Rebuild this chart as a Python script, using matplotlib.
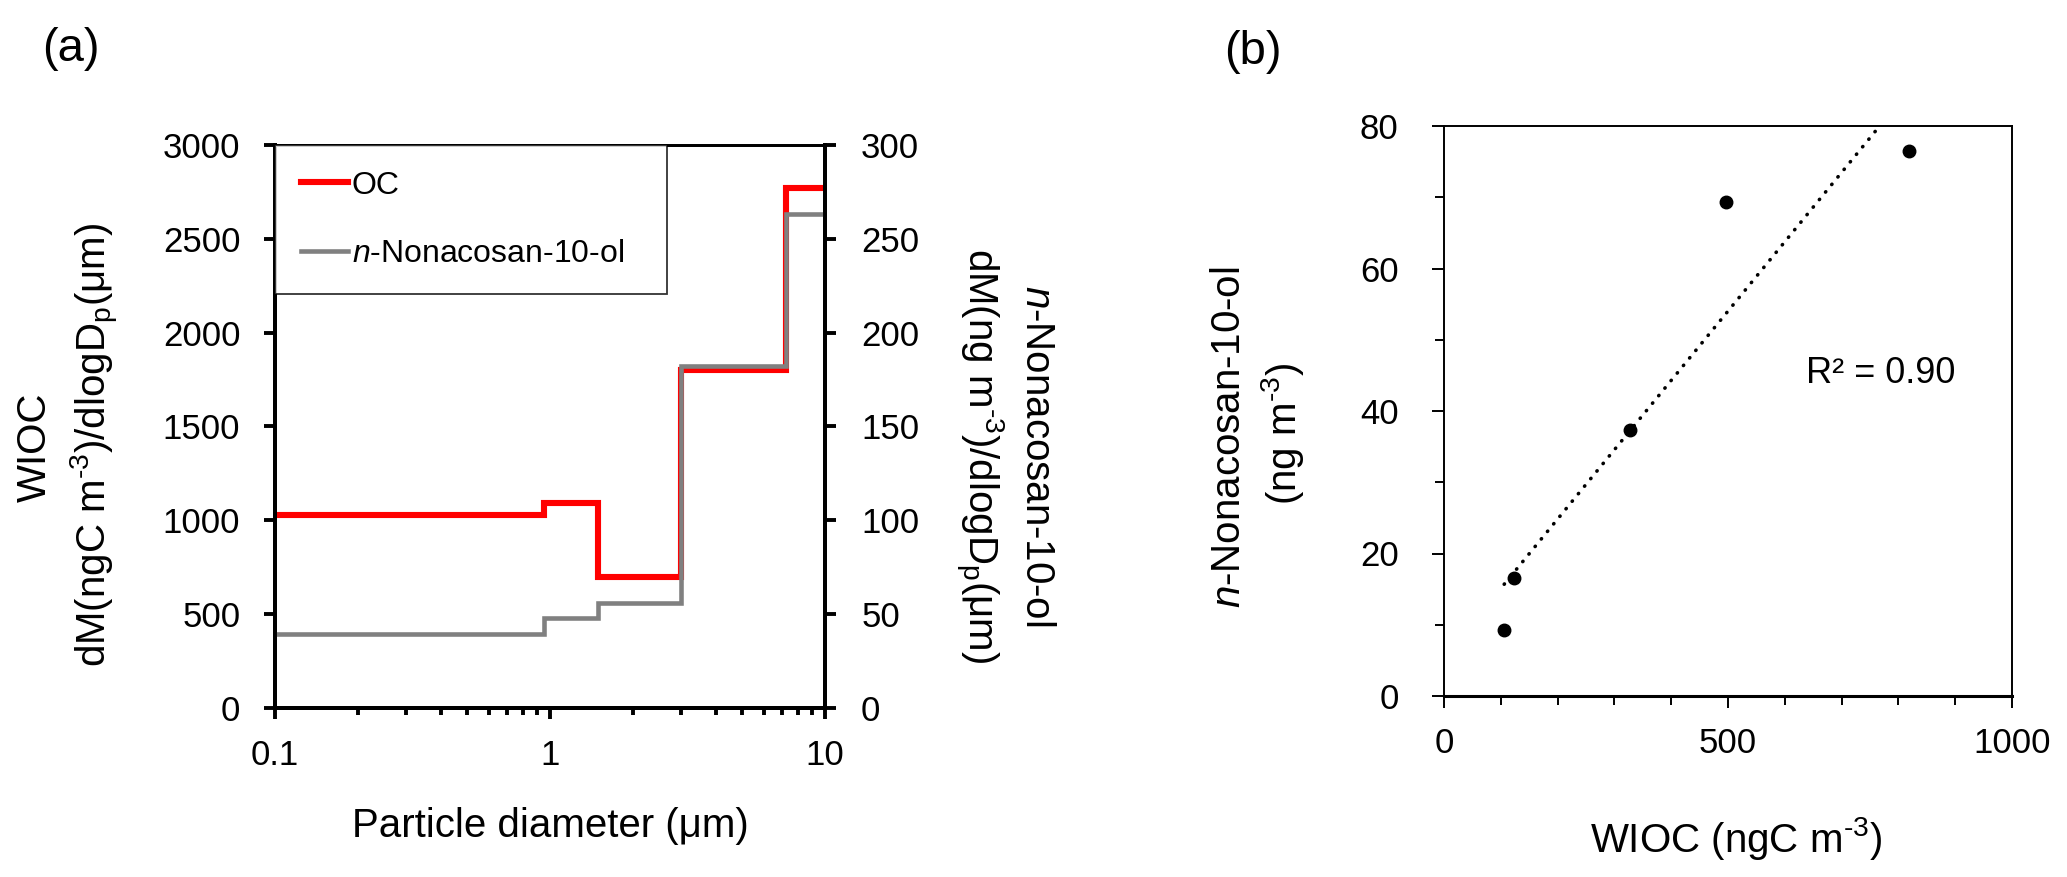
import numpy as np
import matplotlib
matplotlib.use('Agg')
import matplotlib.pyplot as plt
from matplotlib.ticker import MultipleLocator, LogLocator, NullFormatter

plt.rcParams['font.family'] = ['Liberation Sans', 'DejaVu Sans']
plt.rcParams['mathtext.fontset'] = 'custom'
plt.rcParams['mathtext.rm'] = 'Liberation Sans'
plt.rcParams['mathtext.it'] = 'Liberation Sans:italic'

### data
# impactor stage edges (um) and dM/dlogDp per stage
bin_edges = [0.1, 0.95, 1.5, 3.0, 7.2, 10]
oc_vals = [1030, 1095, 700, 1800, 2770]
nona_vals = [39.4, 47.9, 55.8, 182, 263]

# panel b scatter
wioc = [106, 123, 328, 497, 819]
nona_conc = [9.3, 16.6, 37.4, 69.3, 76.5]

x_ticks_a = [0.1, 1, 10]
x_tick_labels_a = ['0.1', '1', '10']

### layout (pixels of the 2067x877 output)
W, H = 2067, 877
tick_fs = 25
label_fs = 29
legend_fs = 23
panel_fs = 34
sup = r'$^{\text{-3}}$'


def fx(px):
    return px / W


def fy(py):
    return 1 - py / H


fig = plt.figure(figsize=(W / 100, H / 100), dpi=100)

# ---------------- panel (a)
ax = fig.add_axes([fx(275), fy(708), 550 / W, 563 / H])
ax2 = ax.twinx()

l1, = ax.step(bin_edges, oc_vals + [oc_vals[-1]], where='post', color='#ff0000',
              lw=4.4, label='OC', solid_joinstyle='miter')
l2, = ax2.step(bin_edges, nona_vals + [nona_vals[-1]], where='post', color='#808080',
               lw=3.3, label='$n$-Nonacosan-10-ol', solid_joinstyle='miter')

ax.set_xscale('log')
ax.set_xlim(0.1, 10)
ax.set_ylim(0, 3000)
ax2.set_ylim(0, 300)
ax.set_xticks(x_ticks_a)
ax.set_xticklabels(x_tick_labels_a)
ax.xaxis.set_minor_locator(LogLocator(base=10, subs=np.arange(2, 10)))
ax.xaxis.set_minor_formatter(NullFormatter())
ax.yaxis.set_major_locator(MultipleLocator(500))
ax2.yaxis.set_major_locator(MultipleLocator(50))

for a in (ax, ax2):
    for s in a.spines.values():
        s.set_linewidth(2.8)
    a.spines['top'].set_linewidth(2.0)

ax.tick_params(axis='both', which='major', direction='out', length=8, width=2.8,
               labelsize=tick_fs)
ax.tick_params(axis='x', which='major', pad=14)
ax.tick_params(axis='x', which='minor', direction='out', length=5, width=2.8)
ax.tick_params(axis='y', pad=17)
ax2.tick_params(axis='y', direction='out', length=8, width=2.8, labelsize=tick_fs, pad=18)

leg = ax2.legend(handles=[l1, l2], loc='upper left', bbox_to_anchor=(0, 1, 392 / 550, 0),
                 mode='expand', borderaxespad=0, fontsize=legend_fs, frameon=True,
                 fancybox=False, edgecolor='black', handlelength=1.5, handletextpad=0.1,
                 labelspacing=1.2, borderpad=0.8)
leg.get_frame().set_linewidth(1.3)

# ---------------- panel (b)
axb = fig.add_axes([fx(1444), fy(696), 568 / W, 570 / H])
axb.plot(wioc, nona_conc, 'o', color='black', ms=9, zorder=3)

fit = np.polyfit(wioc, nona_conc, 1)
xs = np.array([min(wioc), max(wioc)])
axb.plot(xs, np.polyval(fit, xs), color='black', lw=2.6,
         linestyle=(0, (0.1, 2.6)), dash_capstyle='round')
r2 = np.corrcoef(wioc, nona_conc)[0, 1] ** 2
axb.text(637, 45.3, 'R\u00b2 = %.2f' % r2, fontsize=26, va='center', ha='left')

axb.set_xlim(0, 1000)
axb.set_ylim(0, 80)
axb.xaxis.set_major_locator(MultipleLocator(500))
axb.xaxis.set_minor_locator(MultipleLocator(100))
axb.yaxis.set_major_locator(MultipleLocator(20))
axb.yaxis.set_minor_locator(MultipleLocator(10))
for s in axb.spines.values():
    s.set_linewidth(1.4)
axb.spines['bottom'].set_linewidth(2.2)
axb.tick_params(which='both', direction='out', width=1.4, labelsize=tick_fs)
axb.tick_params(which='major', length=8.6)
axb.tick_params(which='minor', length=6.5)
axb.tick_params(axis='y', pad=24)
axb.tick_params(axis='x', pad=14)

# ---------------- labels
fig.text(fx(71), fy(49), '(a)', fontsize=panel_fs, ha='center', va='center')
fig.text(fx(1253), fy(52), '(b)', fontsize=panel_fs, ha='center', va='center')

fig.text(fx(35), fy(447), 'WIOC', fontsize=label_fs, rotation=90, ha='center', va='center')
fig.text(fx(95), fy(445), 'dM(ngC m' + sup + r')/dlogD$_{\mathrm{p}}$(μm)', fontsize=label_fs,
         rotation=90, ha='center', va='center')

fig.text(fx(979), fy(456), 'dM(ng m' + sup + r')/dlogD$_{\mathrm{p}}$(μm)', fontsize=label_fs,
         rotation=270, ha='center', va='center')
fig.text(fx(1037), fy(456), '$n$-Nonacosan-10-ol', fontsize=label_fs,
         rotation=270, ha='center', va='center')

fig.text(fx(550), fy(826), 'Particle diameter (μm)', fontsize=label_fs, ha='center', va='center')

fig.text(fx(1229), fy(437), '$n$-Nonacosan-10-ol', fontsize=label_fs,
         rotation=90, ha='center', va='center')
fig.text(fx(1282), fy(434), '(ng m' + sup + ')', fontsize=label_fs,
         rotation=90, ha='center', va='center')
fig.text(fx(1736), fy(838), 'WIOC (ngC m' + sup + ')', fontsize=label_fs, ha='center', va='center')

fig.savefig('out.png', dpi=100)
